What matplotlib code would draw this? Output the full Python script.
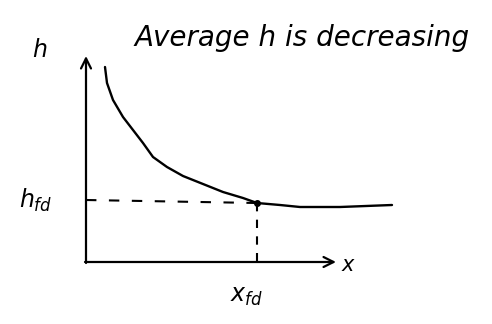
import matplotlib.pyplot as plt
import numpy as np

# Decreasing heat-transfer coefficient along x, levelling off at h_fd
x_vals = [19, 21, 27, 37, 47, 57, 67, 81, 97, 117, 137, 157, 171, 194, 214, 254, 306]
h_vals = [195, 179, 162, 145, 132, 119, 105, 95, 86, 78, 70, 64, 59, 57, 55, 55, 57]
x_fd = 171
h_fd = 59
title = "Average h is decreasing"

fig = plt.figure(figsize=(4.92, 3.24), dpi=100)
ax = fig.add_axes([0, 0, 1, 1])
ax.set_xlim(-86, 406)
ax.set_ylim(-62, 262)
ax.axis("off")

ink = "black"
hand = dict(family="DejaVu Sans", style="italic", color=ink)

# Axes with open arrowheads
ax.annotate("", xy=(0, 206), xytext=(0, -1),
            arrowprops=dict(arrowstyle="->", lw=1.6, color=ink,
                            mutation_scale=18, shrinkA=0, shrinkB=0))
ax.annotate("", xy=(250, 0), xytext=(-1, 0),
            arrowprops=dict(arrowstyle="->", lw=1.6, color=ink,
                            mutation_scale=18, shrinkA=0, shrinkB=0))

# Curve
ax.plot(x_vals, h_vals, color=ink, lw=1.7, solid_capstyle="round",
        solid_joinstyle="round")

# Guide lines to the fully developed point
ax.plot([0, x_fd], [h_fd + 3, h_fd], color=ink, lw=1.5,
        linestyle=(0, (5, 6)))
ax.plot([x_fd, x_fd], [h_fd, 0], color=ink, lw=1.5,
        linestyle=(0, (4, 4)))
ax.plot([x_fd], [h_fd], "o", color=ink, ms=4)

# Labels
ax.text(-46, 212, "h", fontsize=17, ha="center", va="center", **hand)
ax.text(-50, 62, r"$h_{fd}$", fontsize=17, ha="center", va="center",
        color=ink)
ax.text(160, -34, r"$x_{fd}$", fontsize=17, ha="center", va="center",
        color=ink)
ax.text(262, -3, "x", fontsize=15, ha="center", va="center", **hand)
ax.text(216, 224, title, fontsize=20, ha="center", va="center", **hand)

fig.savefig("out.png", dpi=100)
